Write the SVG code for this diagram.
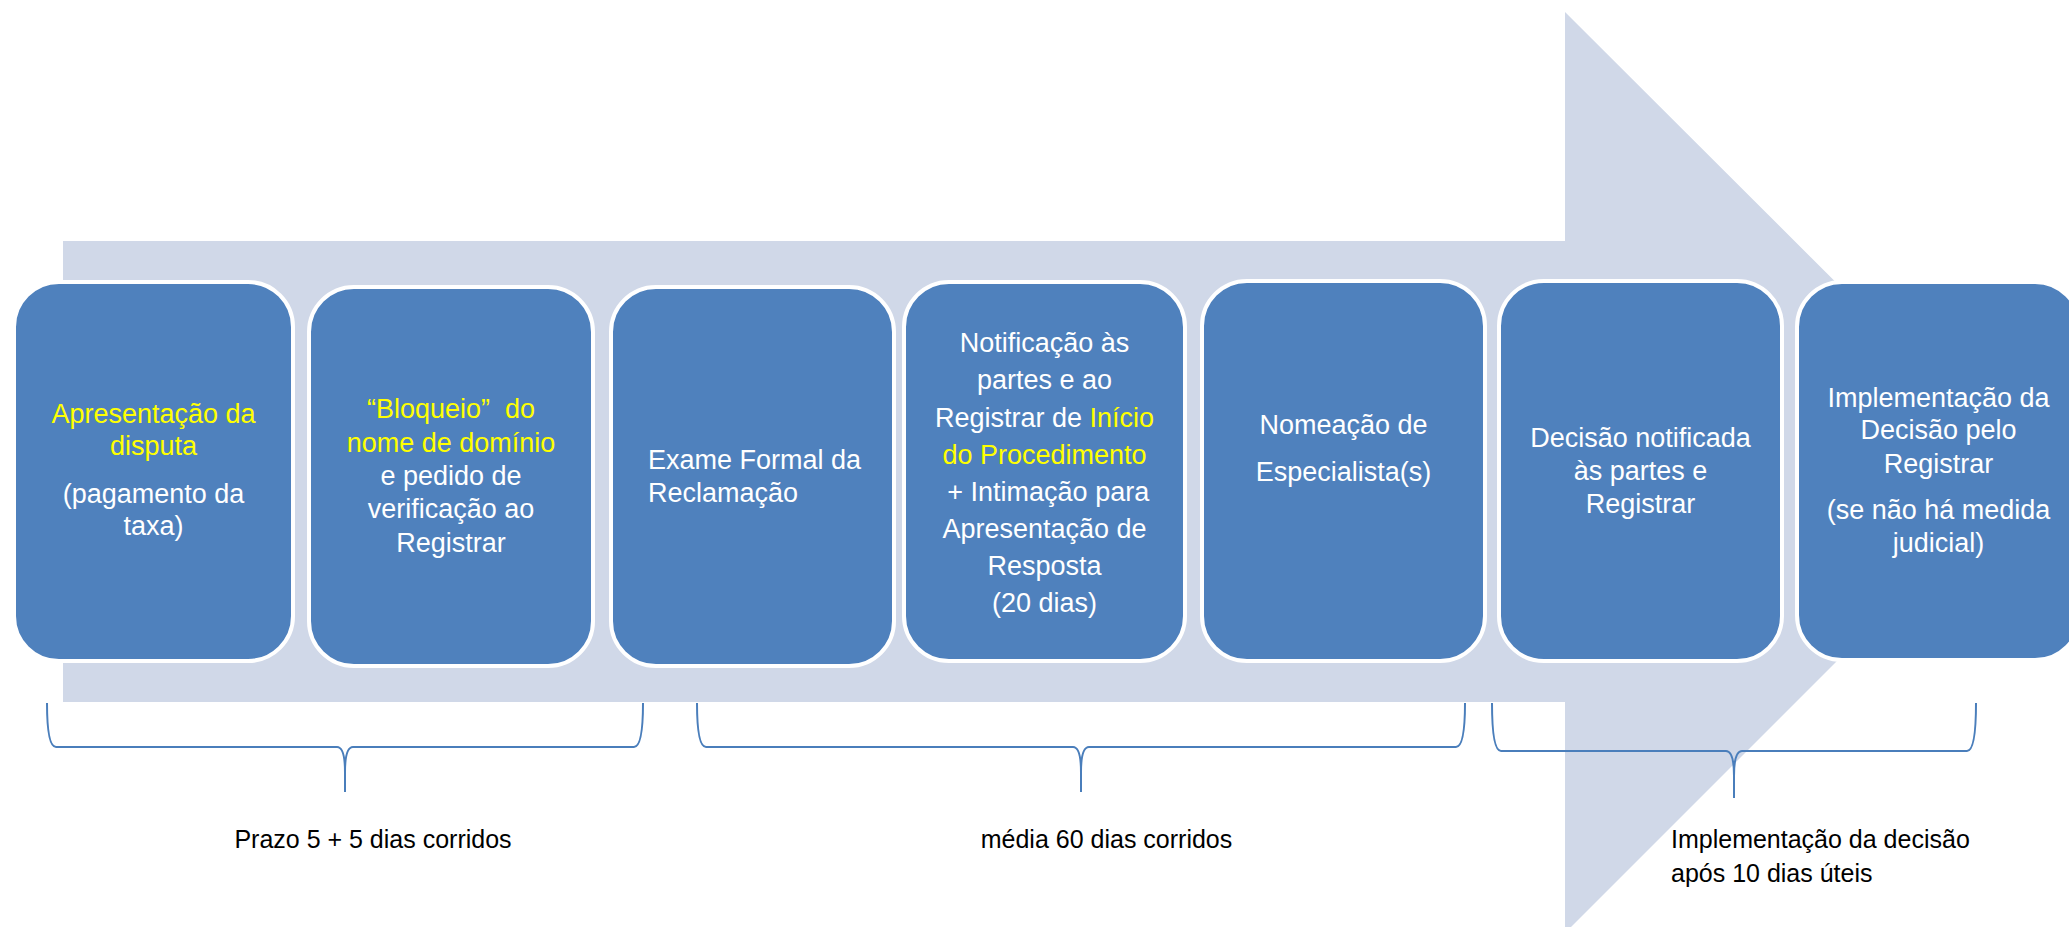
<svg xmlns="http://www.w3.org/2000/svg" width="2069" height="927" viewBox="0 0 2069 927">
<style>
.box{fill:#4F81BD;stroke:#FFFFFF;stroke-width:4}
.t{font-family:"Liberation Sans",Arial,sans-serif;font-size:27px;fill:#FFFFFF;text-anchor:middle}
.tl{text-anchor:start}
.y{fill:#FFFF00}
.brace{fill:none;stroke:#4A7EBB;stroke-width:2}
.lbl{font-family:"Liberation Sans",Arial,sans-serif;font-size:25px;fill:#000000}
</style>
<rect width="2069" height="927" fill="#FFFFFF"/>
<g id="arrow">
<polygon points="63,241 1565,241 1565,12 2026,472 1565,933 1565,702 63,702" fill="#D0D8E8"/>
</g>
<g id="node1">
<rect class="box" x="14" y="282" width="279" height="379" rx="45"/>
<text class="t y" x="153.5" y="423">Apresentação da</text>
<text class="t y" x="153.5" y="455">disputa</text>
<text class="t" x="153.5" y="503">(pagamento da</text>
<text class="t" x="153.5" y="535">taxa)</text>
</g>
<g id="node2">
<rect class="box" x="309" y="287" width="284" height="379" rx="45"/>
<text class="t y" x="451" y="418" xml:space="preserve">“Bloqueio”  do</text>
<text class="t y" x="451" y="452">nome de domínio</text>
<text class="t" x="451" y="485">e pedido de</text>
<text class="t" x="451" y="518">verificação ao</text>
<text class="t" x="451" y="552">Registrar</text>
</g>
<g id="node3">
<rect class="box" x="611" y="287" width="283" height="379" rx="45"/>
<text class="t tl" x="648" y="469">Exame Formal da</text>
<text class="t tl" x="648" y="502">Reclamação</text>
</g>
<g id="node4">
<rect class="box" x="904" y="282" width="281" height="379" rx="45"/>
<text class="t" x="1044.5" y="352">Notificação às</text>
<text class="t" x="1044.5" y="389">partes e ao</text>
<text class="t" x="1044.5" y="427">Registrar de <tspan class="y">Início</tspan></text>
<text class="t y" x="1044.5" y="464">do Procedimento</text>
<text class="t" x="1044.5" y="501" xml:space="preserve"> + Intimação para</text>
<text class="t" x="1044.5" y="538">Apresentação de</text>
<text class="t" x="1044.5" y="575">Resposta</text>
<text class="t" x="1044.5" y="612">(20 dias)</text>
</g>
<g id="node5">
<rect class="box" x="1202" y="281" width="283" height="380" rx="45"/>
<text class="t" x="1343.5" y="434">Nomeação de</text>
<text class="t" x="1343.5" y="481">Especialista(s)</text>
</g>
<g id="node6">
<rect class="box" x="1499" y="281" width="283" height="380" rx="45"/>
<text class="t" x="1640.5" y="447">Decisão notificada</text>
<text class="t" x="1640.5" y="480">às partes e</text>
<text class="t" x="1640.5" y="513">Registrar</text>
</g>
<g id="node7">
<rect class="box" x="1797" y="282" width="283" height="378" rx="45"/>
<text class="t" x="1938.5" y="407">Implementação da</text>
<text class="t" x="1938.5" y="439">Decisão pelo</text>
<text class="t" x="1938.5" y="473">Registrar</text>
<text class="t" x="1938.5" y="519">(se não há medida</text>
<text class="t" x="1938.5" y="552">judicial)</text>
</g>
<g id="connectors">
<path class="brace" d="M47 703 Q47 747 56 747 H337 Q345 747 345 772 V792 M345 772 Q345 747 353 747 H634 Q643 747 643 703"/>
<path class="brace" d="M697 703 Q697 747 706 747 H1073 Q1081 747 1081 772 V792 M1081 772 Q1081 747 1089 747 H1456 Q1465 747 1465 703"/>
<path class="brace" d="M1492 703 Q1492 751 1501 751 H1726 Q1734 751 1734 776 V798 M1734 776 Q1734 751 1742 751 H1967 Q1976 751 1976 703"/>
</g>
<g id="labels">
<text class="lbl" x="373" y="848" text-anchor="middle">Prazo 5 + 5 dias corridos</text>
<text class="lbl" x="1106.5" y="848" text-anchor="middle">média 60 dias corridos</text>
<text class="lbl" x="1671" y="848">Implementação da decisão</text>
<text class="lbl" x="1671" y="882">após 10 dias úteis</text>
</g>
</svg>
